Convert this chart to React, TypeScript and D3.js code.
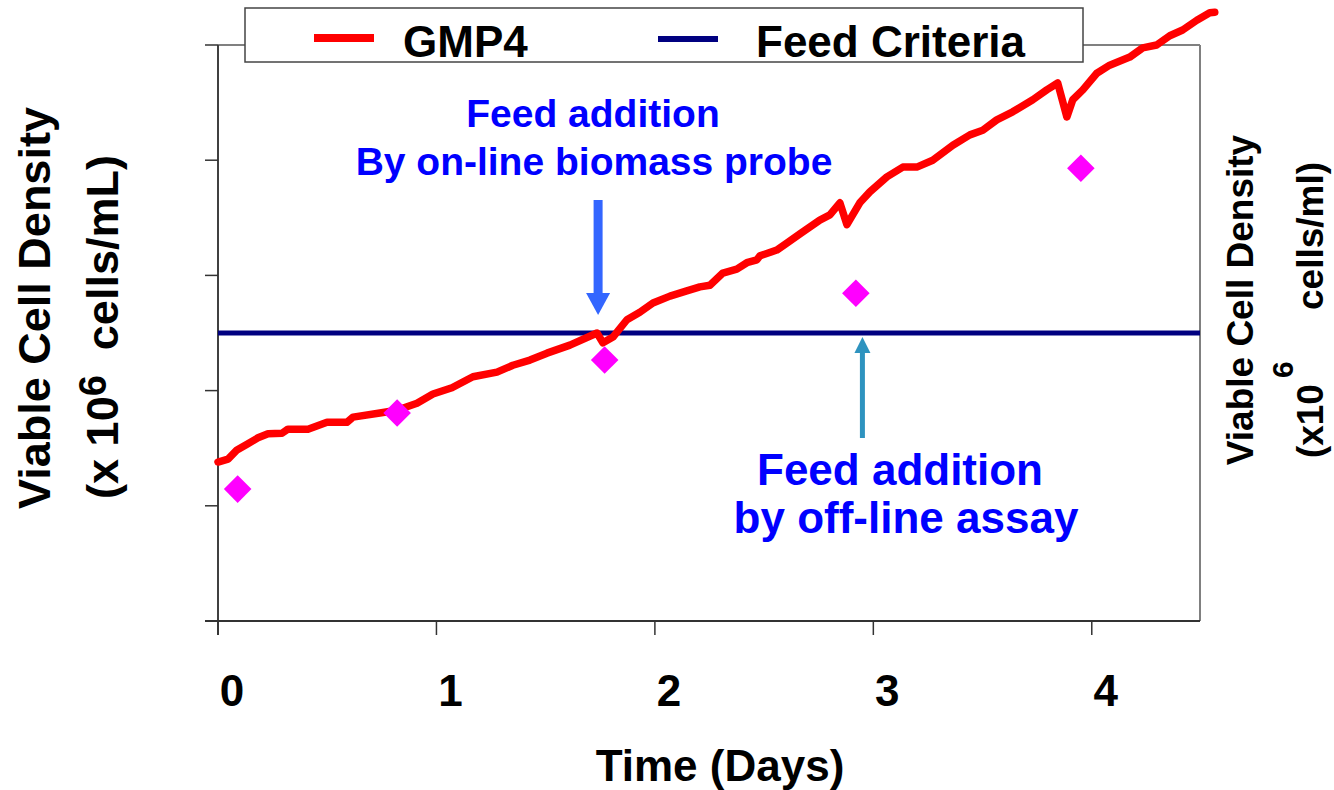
import React from "react";
import * as d3 from "d3";

// GMP4 on-line biomass probe trace (days, viable cell density x10^6 cells/mL)
const probeDays = [0.0, 0.046, 0.087, 0.133, 0.183, 0.229, 0.293, 0.32, 0.412, 0.499, 0.59, 0.618, 0.741, 0.819, 0.911, 0.984, 1.071, 1.121, 1.167, 1.277, 1.35, 1.428, 1.506, 1.611, 1.735, 1.762, 1.808, 1.872, 1.931, 1.991, 2.069, 2.146, 2.206, 2.252, 2.311, 2.375, 2.421, 2.467, 2.481, 2.558, 2.604, 2.664, 2.755, 2.801, 2.847, 2.879, 2.938, 2.984, 3.062, 3.135, 3.199, 3.272, 3.364, 3.442, 3.501, 3.565, 3.638, 3.73, 3.794, 3.844, 3.886, 3.913, 3.959, 4.023, 4.082, 4.174, 4.233, 4.297, 4.357, 4.416, 4.481, 4.54, 4.563];
const probeVcd = [2.76, 2.81, 2.97, 3.07, 3.18, 3.25, 3.26, 3.33, 3.33, 3.45, 3.45, 3.54, 3.61, 3.66, 3.78, 3.94, 4.05, 4.15, 4.24, 4.32, 4.44, 4.53, 4.65, 4.79, 5.0, 4.83, 4.93, 5.23, 5.36, 5.52, 5.64, 5.73, 5.8, 5.83, 6.04, 6.11, 6.22, 6.27, 6.34, 6.44, 6.56, 6.72, 6.96, 7.05, 7.26, 6.88, 7.26, 7.45, 7.71, 7.88, 7.88, 8.0, 8.26, 8.44, 8.52, 8.7, 8.84, 9.05, 9.22, 9.34, 8.75, 9.05, 9.22, 9.51, 9.65, 9.79, 9.95, 10.0, 10.16, 10.26, 10.43, 10.56, 10.57];

// Off-line assay samples
const assayDays = [0.09, 0.82, 1.77, 2.92, 3.95];
const assayVcd = [2.29, 3.61, 4.53, 5.69, 7.86];

const feedCriteria = 5;
const xTicks = [0, 1, 2, 3, 4];
const yTicks = [0, 2, 4, 6, 8, 10];

const FONT = "'Liberation Sans', Arial, Helvetica, sans-serif";

export default function App() {
  const x = d3.scaleLinear().domain([0, 4.5]).range([218, 1201]);
  const y = d3.scaleLinear().domain([0, 10]).range([621, 45]);

  const pts = probeDays.map((d, i) => [d, probeVcd[i]] as [number, number]);
  const line = d3
    .line<[number, number]>()
    .x((d) => x(d[0]))
    .y((d) => y(d[1]));

  const diamond = d3.symbol().type(d3.symbolSquare).size(380)() as string;

  const left = x.range()[0];
  const right = 1200;
  const top = y(10);
  const bottom = y(0);

  // annotation arrows
  const a1x = x(1.74);
  const a1tail = 200;
  const a1tip = 315;
  const a2x = x(2.95);
  const a2tail = 438;
  const a2tip = 337;

  return (
    <svg
      width={1334}
      height={790}
      style={{ position: "absolute", left: 0, top: 0, background: "#fff" }}
      fontFamily={FONT}
      fontWeight="bold"
    >
      <rect x={0} y={0} width={1334} height={790} fill="#fff" />

      {/* plot frame (top/right) */}
      <line x1={left} y1={top} x2={right} y2={top} stroke="#808080" strokeWidth={2} />
      <line x1={right} y1={top} x2={right} y2={bottom} stroke="#808080" strokeWidth={2} />

      {/* left axis */}
      <line x1={left} y1={top} x2={left} y2={bottom + 14} stroke="#404040" strokeWidth={2} />
      {yTicks.map((t) => (
        <line key={"yt" + t} x1={205} x2={left} y1={y(t)} y2={y(t)} stroke="#333" strokeWidth={1.5} />
      ))}

      {/* bottom axis */}
      <line x1={205} y1={bottom} x2={right} y2={bottom} stroke="#333" strokeWidth={2} />
      {xTicks.map((t) => (
        <g key={"xt" + t}>
          <line x1={x(t)} x2={x(t)} y1={bottom} y2={bottom + 14} stroke="#333" strokeWidth={1.5} />
          <text x={x(t) + 14} y={706} fontSize={44} textAnchor="middle" fill="#000">
            {t}
          </text>
        </g>
      ))}
      <text x={720} y={781} fontSize={44} textAnchor="middle" fill="#000">
        Time (Days)
      </text>

      {/* left y label */}
      <text transform="translate(50,308) rotate(-90)" fontSize={45} textAnchor="middle" fill="#000">
        Viable Cell Density
      </text>
      <text transform="translate(118,327) rotate(-90)" fontSize={45} textAnchor="middle" fill="#000" xmlSpace="preserve">
        (x 10<tspan dy={-12} fontSize={38}>6</tspan>
        <tspan dy={12}>{"  cells/mL)"}</tspan>
      </text>

      {/* right y label */}
      <text transform="translate(1253,300) rotate(-90)" fontSize={37} textAnchor="middle" fill="#000">
        Viable Cell Density
      </text>
      <text transform="translate(1323,310) rotate(-90)" fontSize={37} textAnchor="middle" fill="#000" xmlSpace="preserve">
        (x10<tspan dy={-30} dx={6} fontSize={30}>6</tspan>
        <tspan dy={30}>{"     cells/ml)"}</tspan>
      </text>

      {/* feed criteria */}
      <line x1={left} x2={right} y1={y(feedCriteria)} y2={y(feedCriteria)} stroke="#000080" strokeWidth={5} />

      {/* GMP4 probe line */}
      <path d={line(pts) || ""} fill="none" stroke="#FF0000" strokeWidth={7.5} strokeLinejoin="round" strokeLinecap="round" />

      {/* off-line assay diamonds */}
      {assayDays.map((d, i) => (
        <path
          key={"dm" + i}
          d={diamond}
          transform={`translate(${x(d)},${y(assayVcd[i])}) rotate(45)`}
          fill="#FF00FF"
        />
      ))}

      {/* annotation 1 */}
      <text x={593} y={127} fontSize={39} textAnchor="middle" fill="#0000FF">
        Feed addition
      </text>
      <text x={594} y={175} fontSize={39} textAnchor="middle" fill="#0000FF">
        By on-line biomass probe
      </text>
      <rect x={a1x - 4.5} y={a1tail} width={9} height={a1tip - 22 - a1tail} fill="#3366FF" />
      <polygon
        points={`${a1x - 12},${a1tip - 22} ${a1x + 12},${a1tip - 22} ${a1x},${a1tip}`}
        fill="#3366FF"
      />

      {/* annotation 2 */}
      <rect x={a2x - 2.5} y={a2tip + 16} width={5} height={a2tail - a2tip - 16} fill="#2E93BF" />
      <polygon
        points={`${a2x - 8},${a2tip + 16} ${a2x + 8},${a2tip + 16} ${a2x},${a2tip}`}
        fill="#2E93BF"
      />
      <text x={900} y={485} fontSize={44} textAnchor="middle" fill="#0000FF">
        Feed addition
      </text>
      <text x={906} y={533} fontSize={44} textAnchor="middle" fill="#0000FF">
        by off-line assay
      </text>

      {/* legend */}
      <rect x={245} y={8} width={838} height={54} fill="#fff" stroke="#444" strokeWidth={1.5} />
      <line x1={314} x2={374} y1={38} y2={38} stroke="#FF0000" strokeWidth={8} />
      <text x={403} y={57} fontSize={44} fill="#000">
        GMP4
      </text>
      <line x1={658} x2={718} y1={39} y2={39} stroke="#000080" strokeWidth={6} />
      <text x={756} y={57} fontSize={44} fill="#000">
        Feed Criteria
      </text>
    </svg>
  );
}
